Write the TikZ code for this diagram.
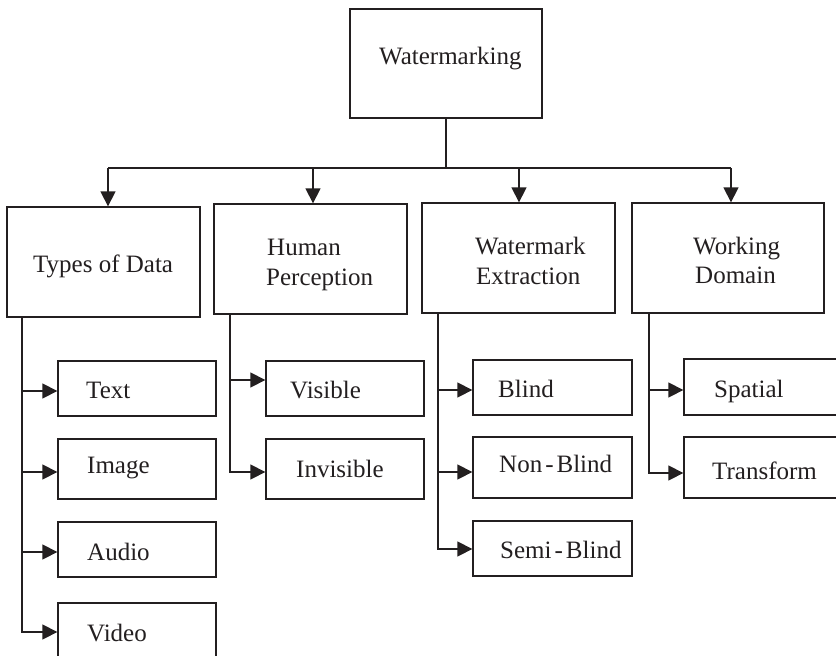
\documentclass[tikz,border=0pt]{standalone}
\usepackage{fontspec}
\setmainfont{Liberation Serif}
\usetikzlibrary{arrows.meta}
\definecolor{ink}{HTML}{231F20}
\newcommand\drawbox[5]{\node[box, minimum width={#4-#2}, minimum height={#5-#3}] (#1) at ({(#2+#4)/2},{(#3+#5)/2}) {};}
\begin{document}
\begin{tikzpicture}[x=1pt,y=-1pt,
  box/.style={draw=ink, line width=1.3pt, inner sep=0pt, rectangle},
  lbl/.style={inner sep=0pt, anchor=base west, font=\fontsize{25}{30}\selectfont, text=ink},
  conn/.style={draw=ink, line width=1.3pt},
  arr/.style={conn, -{Triangle[length=15pt,width=15pt]}}]
\path[use as bounding box, clip] (0,0) rectangle (836,656);
\fill[white] (0,0) rectangle (836,656);
% boxes
\drawbox{root}{350}{9}{542}{118}
\drawbox{types}{7}{207}{200}{317}
\drawbox{human}{214}{204}{407}{314}
\drawbox{extract}{422}{203}{615}{313}
\drawbox{domain}{632}{203}{824}{313}
\drawbox{text}{58}{361}{216}{416}
\drawbox{image}{58}{439}{216}{499}
\drawbox{audio}{58}{522}{216}{577}
\drawbox{video}{58}{603}{216}{666}
\drawbox{visible}{266}{361}{424}{416}
\drawbox{invisible}{266}{439}{424}{499}
\drawbox{blind}{473}{360}{632}{415}
\drawbox{nonblind}{473}{437}{632}{498}
\drawbox{semiblind}{473}{521}{632}{576}
\drawbox{spatial}{684}{359}{846}{415}
\drawbox{transform}{684}{437}{846}{498}
% labels
\node[lbl] (l-root) at (379,64) {Watermarking};
\node[lbl] (l-types) at (33,272) {Types of Data};
\node[lbl] (l-human1) at (267,255) {Human};
\node[lbl] (l-human2) at (266,285) {Perception};
\node[lbl] (l-ext1) at (475,254) {Watermark};
\node[lbl] (l-ext2) at (476,284) {Extraction};
\node[lbl] (l-dom1) at (693,254) {Working};
\node[lbl] (l-dom2) at (695,283) {Domain};
\node[lbl] (l-text) at (86,398) {Text};
\node[lbl] (l-image) at (87,473) {Image};
\node[lbl] (l-audio) at (87,560) {Audio};
\node[lbl] (l-video) at (87,641) {Video};
\node[lbl] (l-visible) at (290,398) {Visible};
\node[lbl] (l-invisible) at (296,477) {Invisible};
\node[lbl] (l-blind) at (498,397) {Blind};
\node[lbl] (l-nonblind) at (499,472) {Non\kern3pt-\kern3pt Blind};
\node[lbl] (l-semiblind) at (500,558) {Semi\kern3pt-\kern3pt Blind};
\node[lbl] (l-spatial) at (714,397) {Spatial};
\node[lbl] (l-transform) at (712,479) {Transform};
% top connectors
\coordinate (hj) at (446,168);
\coordinate (h1) at (108,168);
\coordinate (h2) at (313,168);
\coordinate (h3) at (519,168);
\coordinate (h4) at (731,168);
\draw[conn] (root.south) -- (hj);
\draw[conn] (h1) -- (h4);
\draw[arr] (h1) -- (h1 |- types.north);
\draw[arr] (h2) -- (h2 |- human.north);
\draw[arr] (h3) -- (h3 |- extract.north);
\draw[arr] (h4) -- (h4 |- domain.north);
% types of data
\coordinate (a-text) at (22,391);
\coordinate (a-image) at (22,472);
\coordinate (a-audio) at (22,552);
\coordinate (a-video) at (22,632);
\draw[arr] (types.south -| a-video) -- (a-video) -- (a-video -| video.west);
\draw[arr] (a-text) -- (a-text -| text.west);
\draw[arr] (a-image) -- (a-image -| image.west);
\draw[arr] (a-audio) -- (a-audio -| audio.west);
% human perception
\coordinate (a-visible) at (230,380);
\coordinate (a-invisible) at (230,472);
\draw[arr] (human.south -| a-invisible) -- (a-invisible) -- (a-invisible -| invisible.west);
\draw[arr] (a-visible) -- (a-visible -| visible.west);
% watermark extraction
\coordinate (a-blind) at (438,390);
\coordinate (a-nonblind) at (438,472);
\coordinate (a-semiblind) at (438,549);
\draw[arr] (extract.south -| a-semiblind) -- (a-semiblind) -- (a-semiblind -| semiblind.west);
\draw[arr] (a-blind) -- (a-blind -| blind.west);
\draw[arr] (a-nonblind) -- (a-nonblind -| nonblind.west);
% working domain
\coordinate (a-spatial) at (649,390);
\coordinate (a-transform) at (649,473);
\draw[arr] (domain.south -| a-transform) -- (a-transform) -- (a-transform -| transform.west);
\draw[arr] (a-spatial) -- (a-spatial -| spatial.west);
\end{tikzpicture}
\end{document}
